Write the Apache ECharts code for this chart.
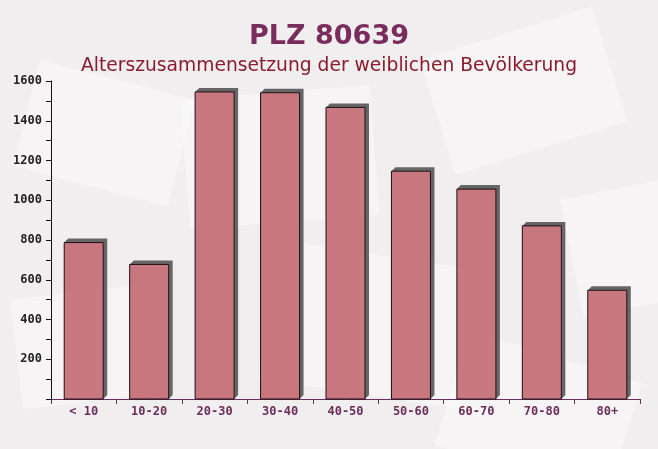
<!DOCTYPE html>
<html>
<head>
<meta charset="utf-8">
<script src="https://cdn.jsdelivr.net/npm/echarts@6/dist/echarts.min.js"></script>
<style>html,body{margin:0;padding:0;background:#f1eef0;}#c{width:658px;height:449px;}</style>
</head>
<body>
<div id="c"></div>
<script>
const titleText = 'PLZ 80639';
const subtitleText = 'Alterszusammensetzung der weiblichen Bevölkerung';
const categories = ['< 10', '10-20', '20-30', '30-40', '40-50', '50-60', '60-70', '70-80', '80+'];
const values = [787, 677, 1545, 1541, 1467, 1146, 1056, 871, 547];
const yTicks = [200, 400, 600, 800, 1000, 1200, 1400, 1600];

const chart = echarts.init(document.getElementById('c'));
const mono = '"DejaVu Sans Mono", monospace';
const bgShapes = [
  {x: 40, y: 60, w: 160, h: 110, r: -0.25},
  {x: 180, y: 100, w: 190, h: 130, r: 0.08},
  {x: 420, y: 60, w: 180, h: 120, r: 0.3},
  {x: 280, y: 240, w: 200, h: 140, r: -0.15},
  {x: 560, y: 200, w: 160, h: 120, r: 0.2},
  {x: 10, y: 300, w: 150, h: 110, r: 0.12},
  {x: 470, y: 330, w: 180, h: 120, r: -0.3}
];
const graphics = bgShapes.map(s => ({
  type: 'rect', z: -10, silent: true, x: s.x, y: s.y, rotation: s.r,
  shape: {x: 0, y: 0, width: s.w, height: s.h},
  style: {fill: 'rgba(255,255,255,0.35)'}
}));
graphics.push({
  type: 'text', left: 'center', top: 23, z: 10,
  style: {text: titleText, font: 'bold 27px "DejaVu Sans", sans-serif', fill: '#7a2d5c'}
});
graphics.push({
  type: 'text', left: 'center', top: 57, z: 10,
  style: {text: subtitleText, font: '18.7px "DejaVu Sans", sans-serif', fill: '#8b1c2c'}
});

function renderBar(params, api) {
  const idx = api.value(0);
  const top = api.coord([idx, api.value(1)]);
  const base = api.coord([idx, 0]);
  const w = 39;
  const x = top[0] - w / 2;
  const h = base[1] - top[1];
  const d = 4;
  return {
    type: 'group',
    children: [
      {
        type: 'polygon',
        shape: {points: [
          [x, top[1]], [x + d, top[1] - d], [x + w + d, top[1] - d],
          [x + w + d, base[1] - d], [x + w, base[1]], [x + w, top[1]]
        ]},
        style: {fill: '#666666'}
      },
      {
        type: 'rect',
        shape: {x: x, y: top[1], width: w, height: h},
        style: {fill: 'rgba(197,108,116,0.92)', stroke: '#1a0f14', lineWidth: 1}
      }
    ]
  };
}

chart.setOption({
  backgroundColor: '#f1eef0',
  animation: false,
  graphic: graphics,
  grid: {left: 51, right: 18, top: 81, bottom: 50},
  xAxis: {
    type: 'category', data: categories,
    axisLine: {lineStyle: {color: '#6b2d5c', width: 1}},
    axisTick: {show: true, length: 5, lineStyle: {color: '#6b2d5c'}},
    axisLabel: {color: '#6b2d5c', fontFamily: mono, fontWeight: 'bold', fontSize: 12, margin: 7}
  },
  yAxis: {
    type: 'value', min: 0, max: 1600, interval: 200,
    axisLine: {show: true, lineStyle: {color: '#111', width: 1}},
    axisTick: {show: true, length: 5, lineStyle: {color: '#111'}},
    minorTick: {show: true, splitNumber: 2, length: 5, lineStyle: {color: '#111'}},
    splitLine: {show: false},
    axisLabel: {
      color: '#222', fontFamily: mono, fontWeight: 'bold', fontSize: 12, margin: 9,
      formatter: v => (yTicks.indexOf(v) >= 0 ? String(v) : '')
    }
  },
  series: [{
    type: 'custom',
    renderItem: renderBar,
    encode: {x: 0, y: 1},
    data: values.map((v, i) => [i, v])
  }]
});
</script>
</body>
</html>
